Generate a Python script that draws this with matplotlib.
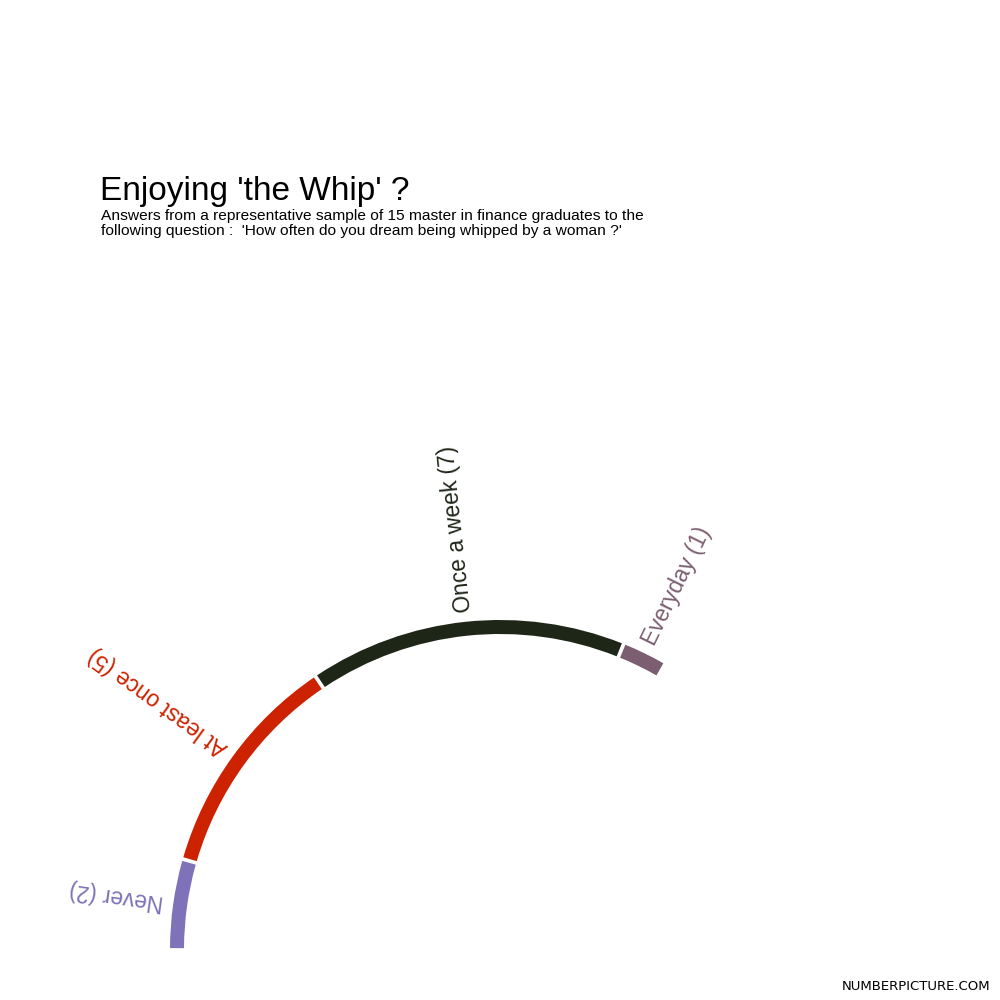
import numpy as np
import matplotlib
matplotlib.use("Agg")
import matplotlib.pyplot as plt
from matplotlib.patches import Wedge

plt.rcParams['font.family'] = ['Liberation Sans', 'DejaVu Sans']

categories = ["Never", "At least once", "Once a week", "Everyday"]
counts = [2, 5, 7, 1]
colors = ["#7f72b8", "#cc2200", "#1e2618", "#7b5f70"]

title = "Enjoying 'the Whip' ?"
subtitle = ("Answers from a representative sample of 15 master in finance graduates to the\n"
            "following question :  'How often do you dream being whipped by a woman ?'")

# geometry in pixel units (y up)
cx, cy, r, w = 500, 50, 323, 14
span = 120.0                 # total degrees covered by the arc
start = 180.0                # start on the left, go clockwise
gap = 0.33

fig = plt.figure(figsize=(10, 10), dpi=100)
ax = fig.add_axes([0, 0, 1, 1])
ax.set_xlim(0, 1000); ax.set_ylim(0, 1000)
ax.set_aspect("equal"); ax.axis("off")

per = span / sum(counts)
a = start
for cat, n, c in zip(categories, counts, colors):
    a2 = a - n * per
    ax.add_patch(Wedge((cx, cy), r + w / 2, a2 + gap, a - gap, width=w, color=c, lw=0))
    mid = (a + a2) / 2
    t = np.deg2rad(mid)
    ax.text(cx + 340 * np.cos(t), cy + 340 * np.sin(t), f"{cat} ({n})", color=c,
            fontsize=16.4, rotation=mid, rotation_mode="anchor", ha="left", va="center")
    a = a2

fig.text(0.1, 0.8, title, fontsize=24, ha="left", va="baseline")
# baseline anchor of a two-line text sits on the last line
fig.text(0.101, 0.765, subtitle, fontsize=11.15, ha="left", va="baseline", linespacing=1.05)
fig.text(0.99, 0.007, "NUMBERPICTURE.COM", fontsize=9.5,
         ha="right", va="bottom", family=["DejaVu Sans Condensed", "DejaVu Sans"])

fig.savefig("out.png", dpi=100, facecolor="white")
